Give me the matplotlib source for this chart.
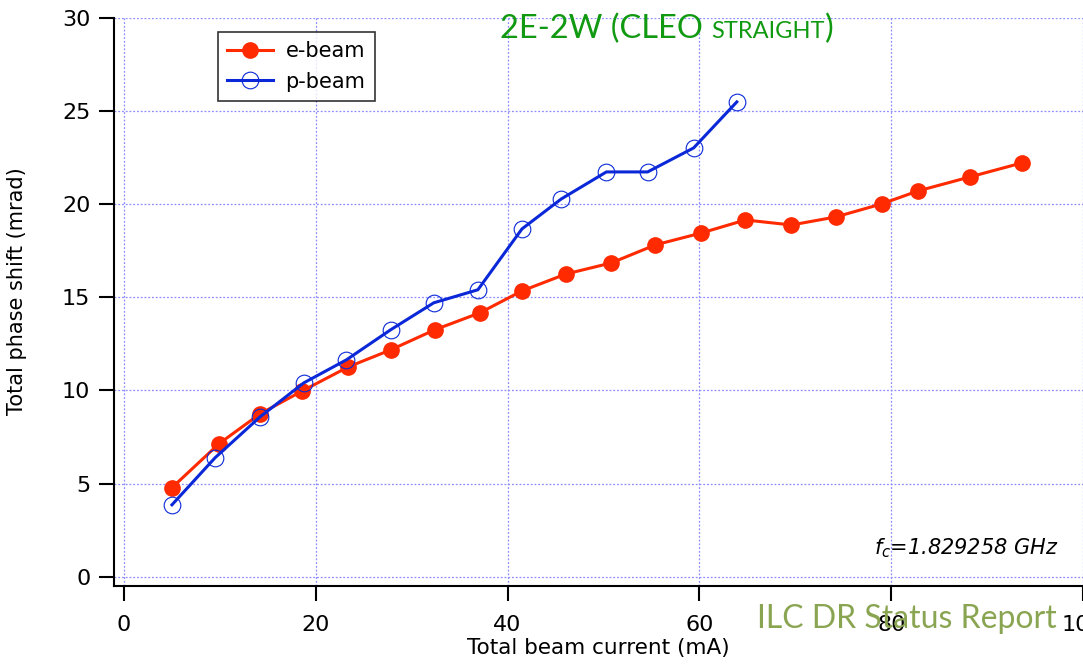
"""
Total phase shift vs total beam current, 2E-2W (CLEO straight)
"""

import matplotlib

matplotlib.use('Agg')

import matplotlib.pyplot as plt

# e-beam measurements
e_current = [5.0, 9.9, 14.2, 18.6, 23.4, 27.8, 32.4, 37.1, 41.5, 46.1,
             50.8, 55.4, 60.2, 64.8, 69.6, 74.2, 79.0, 82.8, 88.2, 93.6]
e_phase = [4.78, 7.14, 8.75, 9.98, 11.27, 12.18, 13.26, 14.17, 15.35, 16.26,
           16.85, 17.82, 18.46, 19.16, 18.89, 19.32, 20.02, 20.72, 21.47, 22.22]

# p-beam measurements
p_current = [5.0, 9.5, 14.2, 18.75, 23.2, 27.8, 32.3, 36.9, 41.5, 45.6,
             50.3, 54.6, 59.4, 63.9]
p_phase = [3.86, 6.39, 8.59, 10.41, 11.65, 13.26, 14.71, 15.41, 18.68, 20.29,
           21.74, 21.74, 23.03, 25.5]

x_ticks = [0, 20, 40, 60, 80, 100]
y_ticks = [0, 5, 10, 15, 20, 25, 30]

RED = '#ff2a00'
BLUE = '#0a28d8'
GRID = '#8c8cff'

plt.rcParams['font.family'] = ['DejaVu Sans']
plt.rcParams['mathtext.fontset'] = 'dejavusans'

fig = plt.figure(figsize=(10.83, 6.72), dpi=100)
ax = fig.add_axes([0.1053, 0.128, 0.8947, 0.845])

ax.plot(e_current, e_phase, color=RED, lw=2.2, marker='o', ms=11,
        mfc=RED, mec=RED, label='e-beam', zorder=3)
ax.plot(p_current, p_phase, color=BLUE, lw=2.2, marker='o', ms=12,
        mfc='none', mec=BLUE, mew=0.8, label='p-beam', zorder=4)

ax.set_xlim(-1.04, 100)
ax.set_ylim(-0.5, 30)
ax.set_xticks(x_ticks)
ax.set_yticks(y_ticks)
ax.grid(True, color=GRID, linestyle=(0, (1.5, 1.5)), linewidth=0.9)
ax.set_axisbelow(True)

for side in ('top', 'right'):
    ax.spines[side].set_visible(False)
for side in ('left', 'bottom'):
    ax.spines[side].set_linewidth(1.5)

ax.tick_params(axis='both', direction='out', length=11, width=1.5,
               labelsize=16)
ax.tick_params(axis='x', pad=10)
ax.tick_params(axis='y', pad=6)

ax.set_xlabel('Total beam current (mA)', fontsize=15.5, labelpad=2)
ax.set_ylabel('Total phase shift (mrad)', fontsize=15)
ax.yaxis.set_label_coords(-0.0898, 0.519)

leg = ax.legend(loc='upper left', bbox_to_anchor=(0.107, 0.976), fontsize=15,
                frameon=True, fancybox=False, edgecolor='black',
                handlelength=2.2, borderpad=0.45, labelspacing=0.5,
                handletextpad=0.6, borderaxespad=0)
leg.get_frame().set_linewidth(1.2)

ax.text(0.975, 0.045, r'$f_c$=1.829258 GHz', transform=ax.transAxes,
        fontsize=15, style='italic', ha='right', va='bottom')

# title with small caps "STRAIGHT"
fig.canvas.draw()
renderer = fig.canvas.get_renderer()
green = '#119a11'
t1 = fig.text(500 / 1083, 1 - 38 / 672, '2E-2W (CLEO ', color=green,
              fontsize=23.5, family='Lato', va='baseline')
bb = t1.get_window_extent(renderer)
t2 = fig.text(bb.x1 / fig.bbox.width, 1 - 38 / 672, 'STRAIGHT', color=green,
              fontsize=17, family='Lato', va='baseline')
bb = t2.get_window_extent(renderer)
fig.text(bb.x1 / fig.bbox.width, 1 - 38 / 672, ')', color=green,
         fontsize=23.5, family='Lato', va='baseline')

fig.text(757 / 1083, 1 - 628 / 672, 'ILC DR Status Report', color='#8aa552',
         fontsize=23, family='Lato', va='baseline')

fig.savefig('out.png', dpi=100)
